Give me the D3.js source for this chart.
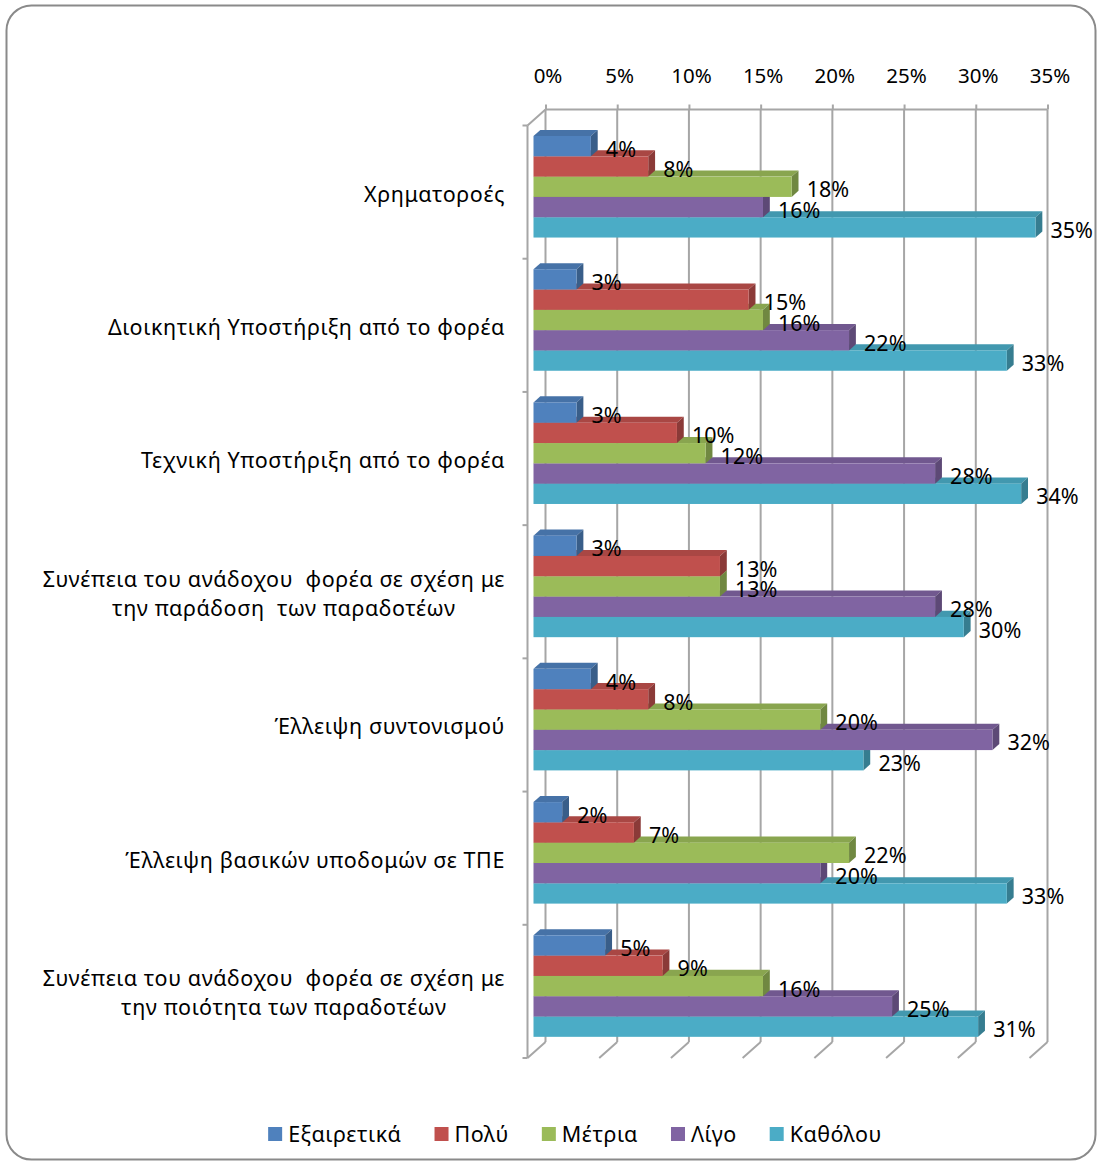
<!DOCTYPE html>
<html>
<head>
<meta charset="utf-8">
<script src="https://cdn.jsdelivr.net/npm/d3@7"></script>
<style>
  body { margin: 0; background: #fff; }
  text { font-family: "Noto Sans", sans-serif; fill: #000; }
</style>
</head>
<body>
<div id="chart"></div>
<script>
// categories, top to bottom (each entry is a list of lines)
var categories = [
  ["Χρηματοροές"],
  ["Διοικητική Υποστήριξη από το φορέα"],
  ["Τεχνική Υποστήριξη από το φορέα"],
  ["Συνέπεια του ανάδοχου  φορέα σε σχέση με", "την παράδοση  των παραδοτέων"],
  ["Έλλειψη συντονισμού"],
  ["Έλλειψη βασικών υποδομών σε ΤΠΕ"],
  ["Συνέπεια του ανάδοχου  φορέα σε σχέση με", "την ποιότητα των παραδοτέων"]
];
var series = ["Εξαιρετικά", "Πολύ", "Μέτρια", "Λίγο", "Καθόλου"];
var colors = ["#4F81BD", "#C0504D", "#9BBB59", "#8064A2", "#4BACC6"];

// values in %, one array per series, same order as categories
var exairetika = [4, 3, 3, 3, 4, 2, 5];
var poly       = [8, 15, 10, 13, 8, 7, 9];
var metria     = [18, 16, 12, 13, 20, 22, 16];
var ligo       = [16, 22, 28, 28, 32, 20, 25];
var katholou   = [35, 33, 34, 30, 23, 33, 31];
var values = [exairetika, poly, metria, ligo, katholou];

var tickValues = [0, 5, 10, 15, 20, 25, 30, 35];

var W = 1102, H = 1166;
// front plane of the plot and the 3d depth offset
var front = { left: 527.5, top: 125.5, bottom: 1058 };
var depth = { dx: 18, dy: -16 };
var barFront = 1 / 3, barDepth = 0.38; // bar position inside the depth

var x = d3.scaleLinear().domain([0, 35]).range([0, 502]);
var y = d3.scaleBand().domain(d3.range(categories.length)).range([front.top, front.bottom]);
var ys = d3.scaleBand().domain(d3.range(series.length)).range([0, y.bandwidth()]).paddingOuter(0.78);

var svg = d3.select("#chart").append("svg")
  .attr("width", W).attr("height", H);

svg.append("rect")
  .attr("x", 6.5).attr("y", 5.5)
  .attr("width", 1089).attr("height", 1154)
  .attr("rx", 25).attr("ry", 25)
  .attr("fill", "#fff").attr("stroke", "#8a8a8a").attr("stroke-width", 2);

var gridColor = "#a6a6a6";
var backLeft = front.left + depth.dx,
    backTop = front.top + depth.dy,
    backBottom = front.bottom + depth.dy;

// back wall gridlines + floor diagonals
var grid = svg.append("g");
tickValues.forEach(function (v) {
  var xb = backLeft + x(v);
  grid.append("line")
    .attr("x1", xb).attr("x2", xb).attr("y1", backTop).attr("y2", backBottom);
  grid.append("line")
    .attr("x1", xb).attr("y1", backBottom)
    .attr("x2", xb - depth.dx).attr("y2", backBottom - depth.dy);
});
// top edge of back wall, left side wall edges
grid.append("line")
  .attr("x1", backLeft).attr("x2", backLeft + x(35)).attr("y1", backTop).attr("y2", backTop);
grid.append("line")
  .attr("x1", backLeft).attr("y1", backTop).attr("x2", front.left).attr("y2", front.top);
grid.append("line")
  .attr("x1", front.left).attr("x2", front.left).attr("y1", front.top).attr("y2", front.bottom);
// category ticks on the left axis
d3.range(categories.length + 1).forEach(function (i) {
  var yy = i < categories.length ? y(i) : front.bottom;
  grid.append("line")
    .attr("x1", front.left - 5).attr("x2", front.left).attr("y1", yy).attr("y2", yy);
});
grid.selectAll("line").attr("stroke", gridColor).attr("stroke-width", 2);

// top axis (labels on the back wall)
var axis = svg.append("g")
  .attr("transform", "translate(" + backLeft + "," + backTop + ")")
  .call(d3.axisTop(x).tickValues(tickValues).tickSize(5).tickPadding(22)
    .tickFormat(function (d) { return d + "%"; }));
axis.select(".domain").remove();
axis.selectAll(".tick line").attr("stroke", gridColor).attr("stroke-width", 2);
axis.selectAll(".tick text").attr("font-size", 20.5).attr("font-family", "Noto Sans").attr("fill", "#000")
  .attr("dx", 2);

// bars
var bx = barFront * depth.dx, by = barFront * depth.dy;
var tdx = barDepth * depth.dx, tdy = barDepth * depth.dy;
var bars = svg.append("g");
var labels = svg.append("g");

categories.forEach(function (cat, ci) {
  // draw bottom bar first so upper bars cover lower top faces
  for (var si = series.length - 1; si >= 0; si--) {
    var v = values[si][ci];
    var x0 = front.left + bx + x(0),
        x1 = front.left + bx + x(v),
        y0 = y(ci) + ys(si) + by,
        y1 = y0 + ys.bandwidth();
    var c = d3.color(colors[si]);
    var g = bars.append("g");
    // top face
    g.append("path")
      .attr("d", "M" + x0 + "," + y0 + "L" + x1 + "," + y0 + "L" + (x1 + tdx) + "," + (y0 + tdy) +
        "L" + (x0 + tdx) + "," + (y0 + tdy) + "Z")
      .attr("fill", c.darker(0.35));
    // side face
    g.append("path")
      .attr("d", "M" + x1 + "," + y0 + "L" + (x1 + tdx) + "," + (y0 + tdy) + "L" + (x1 + tdx) + "," + (y1 + tdy) +
        "L" + x1 + "," + y1 + "Z")
      .attr("fill", c.darker(0.9));
    // front face
    g.append("rect")
      .attr("x", x0).attr("y", y0)
      .attr("width", x1 - x0).attr("height", y1 - y0)
      .attr("fill", colors[si]);

    labels.append("text")
      .attr("x", x1 + 15)
      .attr("y", (y0 + y1) / 2 + 3)
      .attr("dy", "0.35em")
      .attr("font-size", 21.5)
      .text(v + "%");
  }
});

// category labels
categories.forEach(function (lines, ci) {
  var cy = y(ci) + y.bandwidth() / 2 + 2;
  var lh = 29;
  var t = svg.append("text")
    .attr("font-size", 21.5)
    .attr("letter-spacing", 0.6)
    .style("white-space", "pre")
    .attr("text-anchor", "middle");
  lines.forEach(function (ln, li) {
    t.append("tspan").text(ln)
      .attr("y", cy + (li - (lines.length - 1) / 2) * lh)
      .attr("dy", "0.35em");
  });
  // right edge of the widest line at x=505, wrapped line sits a bit right
  var w = d3.max(t.selectAll("tspan").nodes(), function (n) { return n.getComputedTextLength(); });
  t.selectAll("tspan").attr("x", function (d, i) { return 505 - w / 2 + (i > 0 ? 10 : 0); });
});

// legend
var legend = svg.append("g");
var lx = 0;
series.forEach(function (s, i) {
  var item = legend.append("g").attr("transform", "translate(" + lx + ",0)");
  item.append("rect").attr("x", 0).attr("y", -7).attr("width", 14).attr("height", 14).attr("fill", colors[i]);
  var tx = item.append("text").attr("x", 20).attr("y", 0).attr("dy", "0.35em")
    .attr("font-size", 21.5).attr("letter-spacing", 0.5).text(s);
  lx += 20 + tx.node().getComputedTextLength() + 33;
});
var lw = lx - 33;
legend.attr("transform", "translate(" + (575 - lw / 2) + ",1134)");
</script>
</body>
</html>
